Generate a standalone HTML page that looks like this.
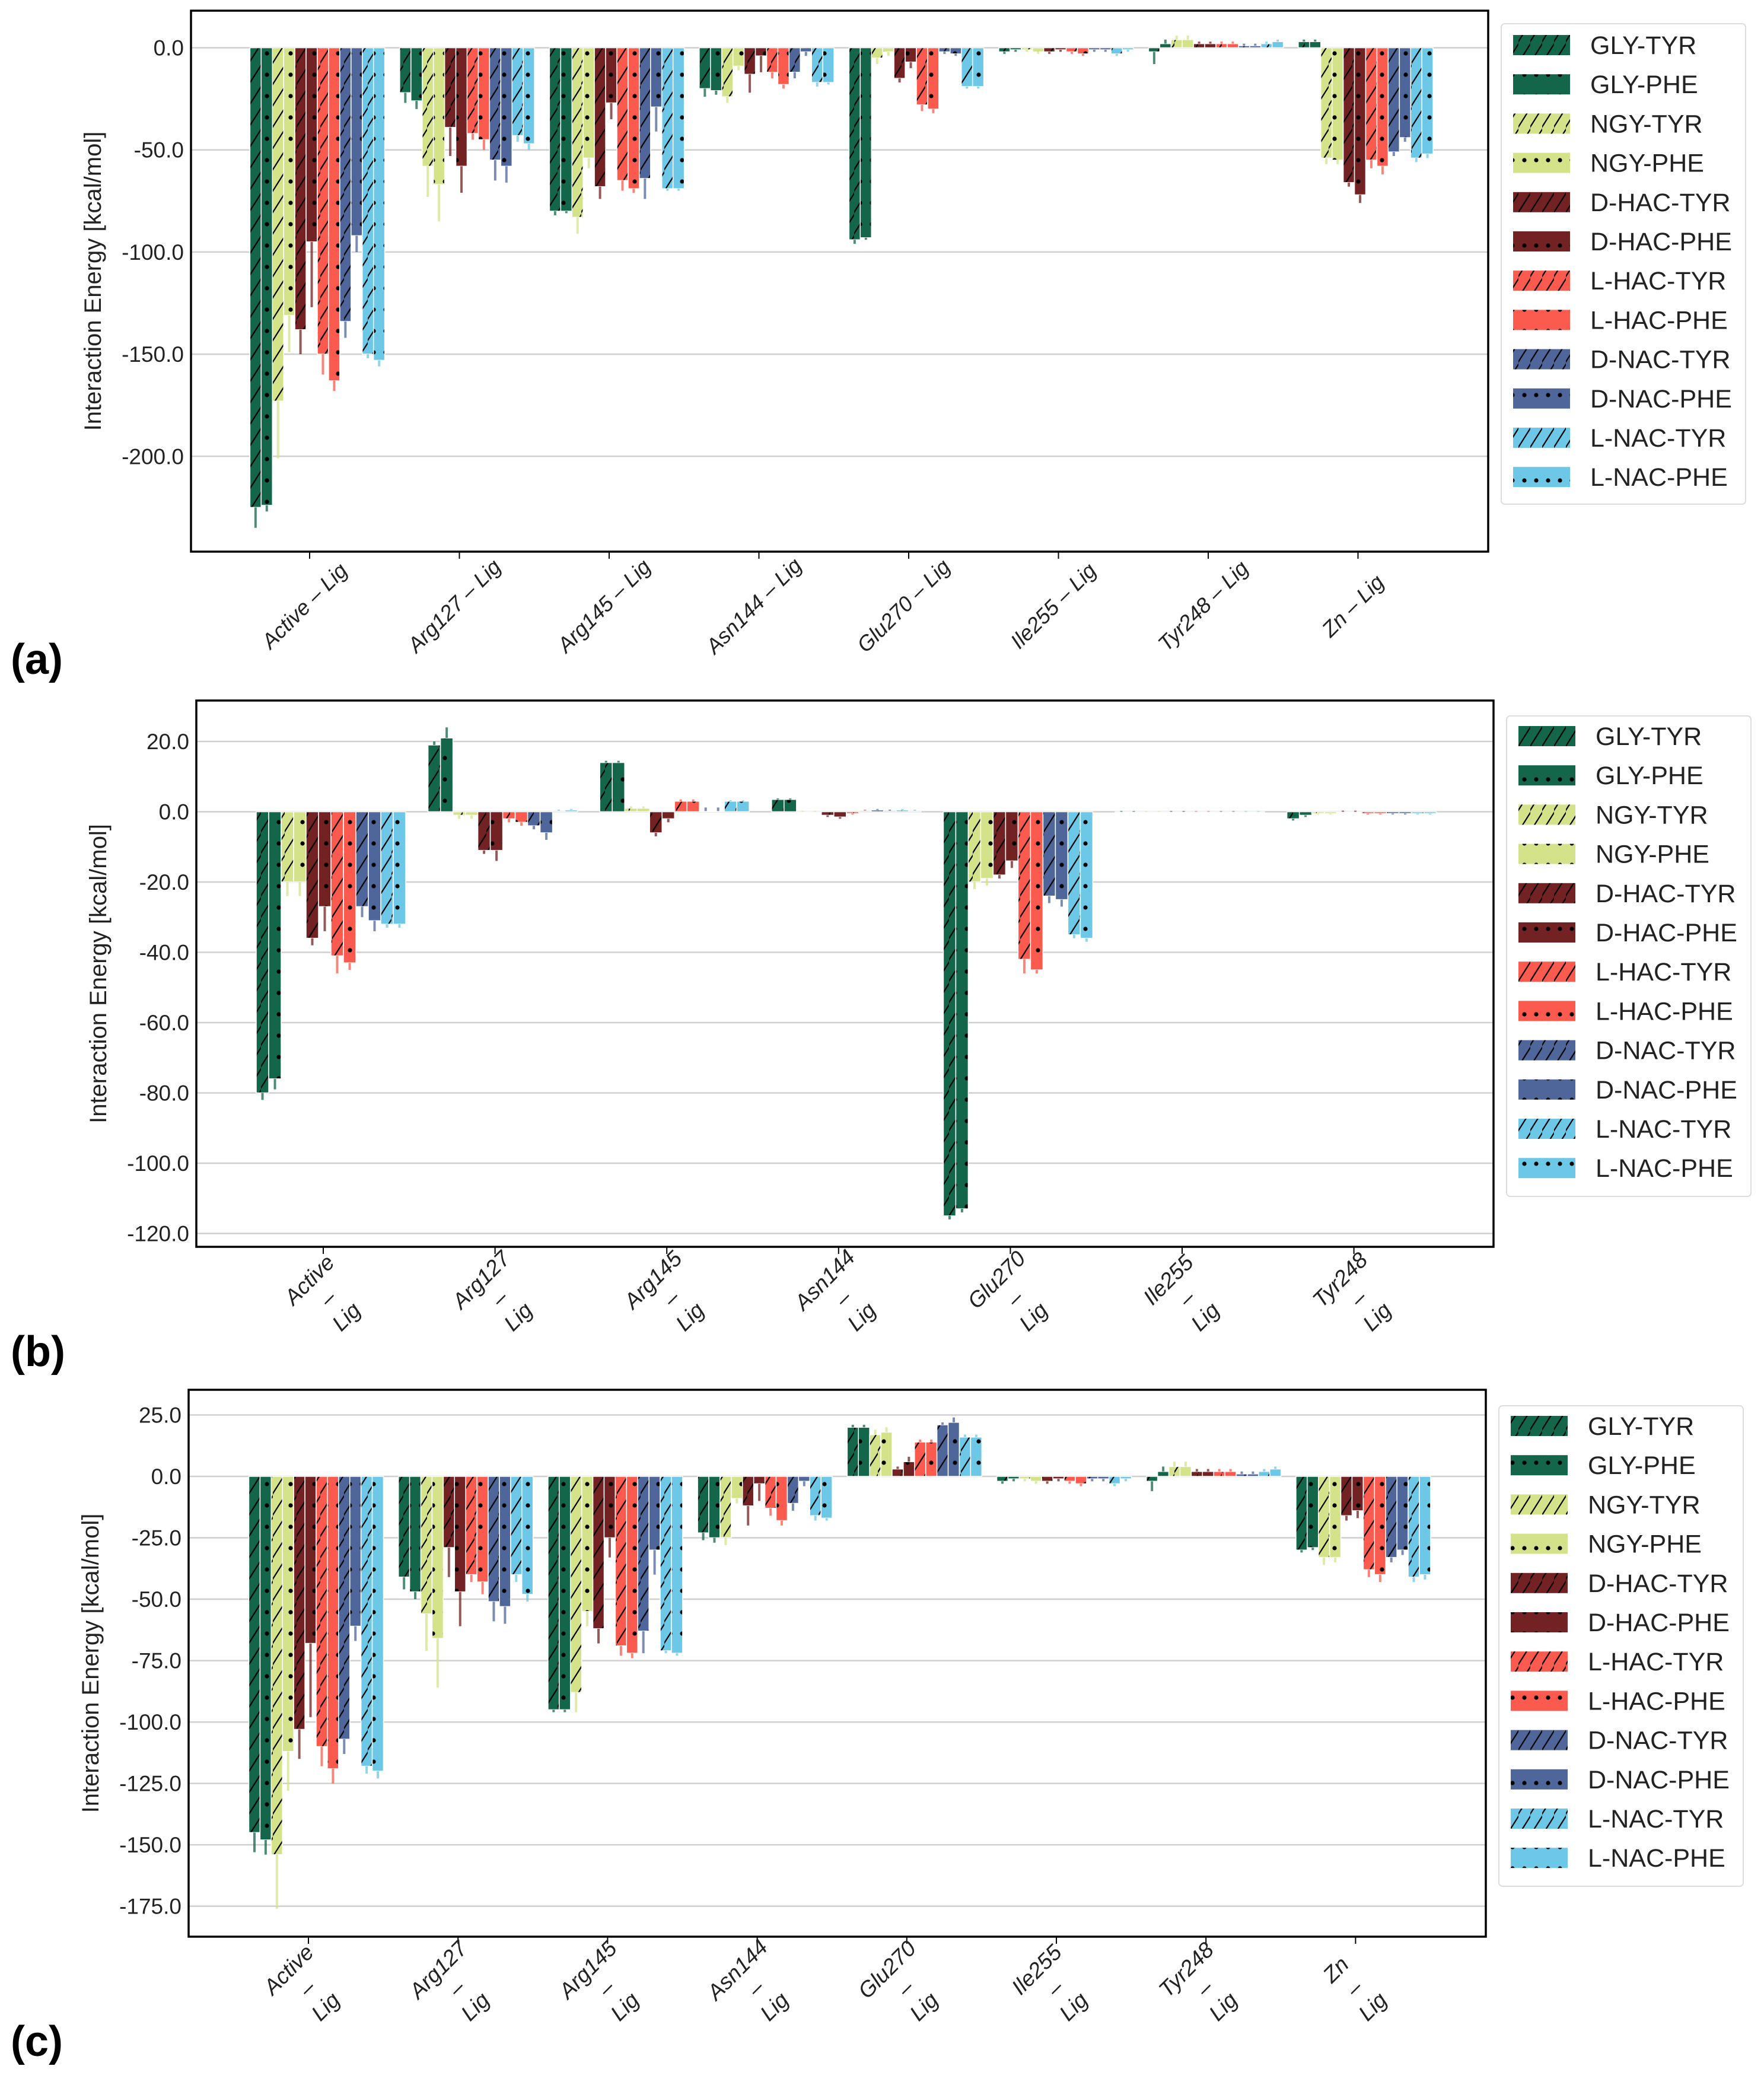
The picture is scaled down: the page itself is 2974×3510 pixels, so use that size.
<!DOCTYPE html>
<html><head><meta charset="utf-8"><style>
html,body{margin:0;padding:0;background:#fff;}
svg{display:block;}
text{font-family:"Liberation Sans",sans-serif;}
</style></head><body>
<svg id="fig" width="2974" height="3510" viewBox="0 0 2974 3510" xmlns="http://www.w3.org/2000/svg">
<defs id="defs"></defs>
</svg>
<script>
const series = ["GLY-TYR","GLY-PHE","NGY-TYR","NGY-PHE","D-HAC-TYR","D-HAC-PHE","L-HAC-TYR","L-HAC-PHE","D-NAC-TYR","D-NAC-PHE","L-NAC-TYR","L-NAC-PHE"];
const colors = ["#14664a","#14664a","#d4e38a","#d4e38a","#722222","#722222","#fa5b4e","#fa5b4e","#4e6699","#4e6699","#6cc8e6","#6cc8e6"];
const groupsA = ["Active","Arg127","Arg145","Asn144","Glu270","Ile255","Tyr248","Zn"];
const groupsB = ["Active","Arg127","Arg145","Asn144","Glu270","Ile255","Tyr248"];
const groupsC = ["Active","Arg127","Arg145","Asn144","Glu270","Ile255","Tyr248","Zn"];
const valuesA = [
 [-225,-224,-173,-131,-138,-95,-150,-163,-134,-92,-150,-153],
 [-22,-26,-58,-67,-39,-58,-42,-45,-55,-58,-43,-47],
 [-80,-80,-83,-54,-68,-27,-65,-69,-64,-29,-69,-69],
 [-20,-21,-24,-9,-13,-4,-12,-18,-12,-2,-17,-17],
 [-94,-93,-5,-2,-15,-7,-28,-30,-2,-3,-19,-19],
 [-2,-1,-1,-2,-2,-1,-2,-3,-1,-1,-3,-1],
 [-2,2,4,4,2,2,2,2,1,1,2,3],
 [3,3,-54,-55,-66,-72,-55,-58,-51,-44,-54,-52]];
const errorsA = [
 [10,3,28,18,12,32,10,5,8,8,2,3],
 [5,4,15,18,14,13,3,5,10,8,3,3],
 [2,1,8,5,6,8,5,2,10,12,1,1],
 [4,2,3,2,9,8,3,2,3,2,2,1],
 [2,1,3,2,2,3,3,2,1,1,1,1],
 [1,1,1,1,1,1,1,1,1,1,1,1],
 [6,2,2,2,1,1,1,1,1,1,1,1],
 [1,1,3,2,2,4,4,4,2,2,2,2]];
const valuesB = [
 [-80,-76,-20,-20,-36,-27,-41,-43,-27,-31,-32,-32],
 [19,21,-1,-1,-11,-11,-2,-3,-4,-6,0.3,0.5],
 [14,14,1,1,-6,-2,3,3,0.2,0.2,3,3],
 [3.5,3.5,0,0,-1,-1.5,-0.5,0.3,0.5,0.3,0.5,0.3],
 [-115,-113,-20,-19,-18,-14,-42,-45,-24,-25,-35,-36],
 [0,0,0,0,0,0,0,0,0,0,0,0],
 [-2,-1,-0.5,-0.5,0,0,-0.5,-0.5,-0.5,-0.5,-0.5,-0.5]];
const errorsB = [
 [2,3,4,4,2,7,5,2,3,3,1,1],
 [1,3,1,1,1,3,1,1,1,2,0.3,0.3],
 [0.5,0.5,0.5,0.5,1,1,0.5,0.5,1,1,0.3,0.3],
 [0.3,0.3,0.3,0.3,0.5,0.5,0.3,0.3,0.3,0.3,0.3,0.3],
 [1,1,2,2,1,2,4,1,2,2,1,1],
 [0.2,0.2,0.2,0.2,0.2,0.2,0.2,0.2,0.2,0.2,0.2,0.2],
 [0.5,0.5,0.3,0.3,0.3,0.3,0.3,0.3,0.3,0.3,0.3,0.3]];
const valuesC = [
 [-145,-148,-154,-112,-103,-68,-110,-119,-107,-61,-118,-120],
 [-41,-47,-56,-66,-29,-47,-40,-43,-51,-53,-40,-48],
 [-95,-95,-88,-55,-62,-25,-69,-72,-63,-30,-71,-72],
 [-23,-25,-25,-9,-12,-3,-13,-18,-11,-2,-16,-17],
 [20,20,17,18,3,6,14,14,21,22,16,16],
 [-2,-1,-1,-2,-2,-1,-2,-3,-1,-1,-3,-1],
 [-2,2,4,4,2,2,2,2,1,1,2,3],
 [-30,-29,-33,-33,-16,-14,-38,-40,-33,-30,-41,-40]];
const errorsC = [
 [8,6,22,16,12,30,8,6,6,6,3,3],
 [5,3,15,20,12,14,3,5,8,7,3,3],
 [1,1,8,6,6,8,4,2,9,10,1,1],
 [3,2,3,2,8,7,3,2,3,2,2,1],
 [1,1,2,2,1,2,1,1,1,2,1,1],
 [1,1,1,1,1,1,1,1,1,1,1,1],
 [4,2,2,2,1,1,1,1,1,1,1,1],
 [1,1,3,2,2,3,3,3,2,2,2,2]];
const ticksA = [0,-50,-100,-150,-200];
const ticksB = [20,0,-20,-40,-60,-80,-100,-120];
const ticksC = [25,0,-25,-50,-75,-100,-125,-150,-175];

const NS = "http://www.w3.org/2000/svg";
const svg = document.getElementById('fig');
const defs = document.getElementById('defs');
function mk(tag, attrs, parent){
  const e = document.createElementNS(NS, tag);
  for (const k in attrs) e.setAttribute(k, attrs[k]);
  (parent||svg).appendChild(e);
  return e;
}
colors.forEach((c,i)=>{
  const p = mk('pattern',{id:'pat'+i,patternUnits:'userSpaceOnUse',width:20,height:36},defs);
  mk('rect',{x:0,y:0,width:20,height:36,fill:c},p);
  if (i%2===0){
    mk('line',{x1:-2,y1:37,x2:22,y2:-1,stroke:'#000','stroke-width':2.2},p);
  } else {
    mk('circle',{cx:10,cy:18,r:3.6,fill:'#000'},p);
  }
});

function panel(cfg){
  const {name, groups, values, errors, ticks, left, right, top, bottom, y0, ppu, gc0, gsp, frac, labelMode, legend} = cfg;
  const g = mk('g',{});
  
  
  const yS = v => y0 - v*ppu;
  ticks.forEach(t=>{
    const y = yS(t);
    const gl = mk('line',{x1:left,x2:right,y1:y,y2:y,stroke:'#cfcfcf','stroke-width':2.5},g);
    
    
    const tl = mk('text',{x:left-12,y:y+13,'text-anchor':'end','font-size':37,fill:'#222'},g);
    tl.textContent = t.toFixed(1);
    
    
  });
  const bw = gsp*frac/12;
  groups.forEach((gn,gi)=>{
    const cx = gc0 + gi*gsp;
    const x0 = cx - gsp*frac/2;
    series.forEach((s,si)=>{
      const v = values[gi][si], e = errors[gi][si];
      const x = x0 + si*bw;
      const ya = yS(Math.max(v,0)), yb = yS(Math.min(v,0));
      const r = mk('rect',{x:x,y:ya,width:bw,height:Math.max(yb-ya,0.5),fill:'url(#pat'+si+')',stroke:'#fff','stroke-width':1.5},g);
      
      
      const dir = v<0 ? -1 : 1;
      const el = mk('line',{x1:x+bw/2,x2:x+bw/2,y1:yS(v),y2:yS(v+dir*e),stroke:colors[si],'stroke-width':4,opacity:0.75},g);
      
      
    });
    const tx = cx - 13;
    const tk = mk('line',{x1:tx,x2:tx,y1:bottom,y2:bottom+12,stroke:'#000','stroke-width':2},g);
    
    
    if (labelMode==='single'){
      const t = mk('text',{x:0,y:0,'text-anchor':'middle','font-size':36,'font-style':'italic',fill:'#222',transform:`translate(${tx},${bottom+100}) rotate(-45)`},g);
      t.textContent = gn + ' – Lig';
      
      
    } else {
      const tg = mk('g',{transform:`translate(${cx+cfg.lx},${bottom+cfg.ly}) rotate(-45)`},g);
      
      
      [gn,'–','Lig'].forEach((ln,li)=>{
        const t = mk('text',{x:0,y:li*44+12,'text-anchor':'middle','font-size':37,'font-style':'italic',fill:'#222'},tg);
        t.textContent = ln;
      });
    }
  });
  const fr = mk('rect',{x:left,y:top,width:right-left,height:bottom-top,fill:'none',stroke:'#000','stroke-width':3.5},g);
  
  
  const yt = mk('text',{x:0,y:0,'text-anchor':'middle','font-size':40,fill:'#222',transform:`translate(${left-152},${(top+bottom)/2}) rotate(-90)`},g);
  yt.textContent = 'Interaction Energy [kcal/mol]';
  
  
  const lg = mk('g',{},g);
  
  
  mk('rect',{x:legend.x,y:legend.y,width:412,height:810,rx:6,fill:'#fff',stroke:'#ddd','stroke-width':2},lg);
  series.forEach((s,si)=>{
    const cy = legend.first + si*66.2;
    const le = mk('g',{},lg);
    
    
    mk('rect',{x:legend.x+20,y:cy-17,width:96,height:34,fill:'url(#pat'+si+')'},le);
    const t = mk('text',{x:legend.x+150,y:cy+15,'font-size':43,fill:'#222'},le);
    t.textContent = s;
  });
  const pl = mk('text',{x:18,y:cfg.letterY,'font-size':72,'font-weight':'bold','font-family':'"Liberation Serif",serif',fill:'#000'},g);
  pl.textContent = cfg.letter;
  
  
}

panel({name:'panel-a',groups:groupsA,values:valuesA,errors:errorsA,ticks:ticksA,left:322,right:2509,top:18,bottom:930,y0:80.5,ppu:3.444,gc0:535,gsp:252.5,frac:0.9,labelMode:'single',legend:{x:2531,y:40,first:76},letter:'(a)',letterY:1136});
panel({name:'panel-b',groups:groupsB,values:valuesB,errors:errorsB,ticks:ticksB,left:331,right:2518,top:1181,bottom:2102,y0:1368.5,ppu:5.925,gc0:558,gsp:289.6,frac:0.87,labelMode:'multi',lx:-36,ly:56,legend:{x:2540,y:1207,first:1241},letter:'(b)',letterY:2303});
panel({name:'panel-c',groups:groupsC,values:valuesC,errors:errorsC,ticks:ticksC,left:318,right:2505,top:2343,bottom:3265,y0:2489,ppu:4.141,gc0:533,gsp:252.2,frac:0.9,labelMode:'multi',lx:-46,ly:56,legend:{x:2527,y:2370,first:2404},letter:'(c)',letterY:3466});
</script>
</body></html>
